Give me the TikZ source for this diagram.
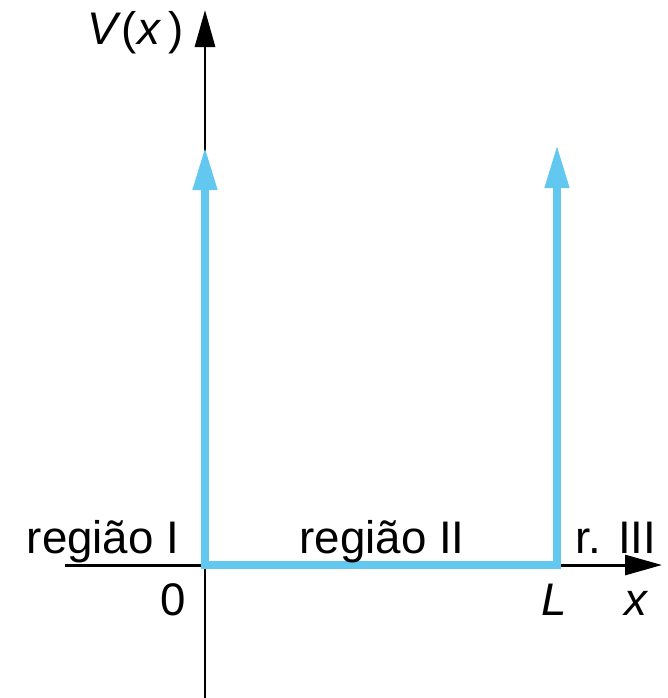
\documentclass[tikz,border=0pt]{standalone}
\usepackage{fontspec}
\setmainfont{Liberation Sans}
\usetikzlibrary{arrows.meta}
\definecolor{wellblue}{RGB}{98,200,240}

\begin{document}
\begin{tikzpicture}[
  x=0.02cm, y=-0.02cm,
  axis/.style={line width=0.06cm, -{Triangle[length=0.74cm, width=0.4cm]}},
  wall/.style={line width=0.15cm, wellblue, line join=miter,
    {Triangle[length=0.86cm, width=0.46cm]}-{Triangle[length=0.86cm, width=0.46cm]}},
  lab/.style={font=\fontsize{26}{30}\selectfont, inner sep=0pt, anchor=base},
]
\useasboundingbox (0,0) rectangle (668,698);

% Axes
\coordinate (xstart) at (65,565);
\coordinate (xend) at (662,565);
\coordinate (ybottom) at (205,698);
\coordinate (ytop) at (205,10);
\draw[axis] (xstart) -- (xend);
\draw[axis] (ybottom) -- (ytop);

% Infinite well
\coordinate (origin) at (205,565);
\coordinate (wallL) at (557,565);
\coordinate (tipA) at (205,147);
\coordinate (tipB) at (557,145);
\draw[wall] (tipA) -- (origin) -- (wallL) -- (tipB);

% Labels
\node[lab] (vlabel) at (136,44) {\textit{V}(\textit{x}\,)};
\node[lab] (reg1) at (103,553) {região I};
\node[lab] (reg2) at (382,553) {região II};
\node[lab] (reg3) at (616,553) {r. III};
\node[lab] (zero) at (173,615) {0};
\node[lab] (lpos) at (554,615) {\textit{L}};
\node[lab] (xlabel) at (637,615) {\textit{x}};

\end{tikzpicture}
\end{document}
